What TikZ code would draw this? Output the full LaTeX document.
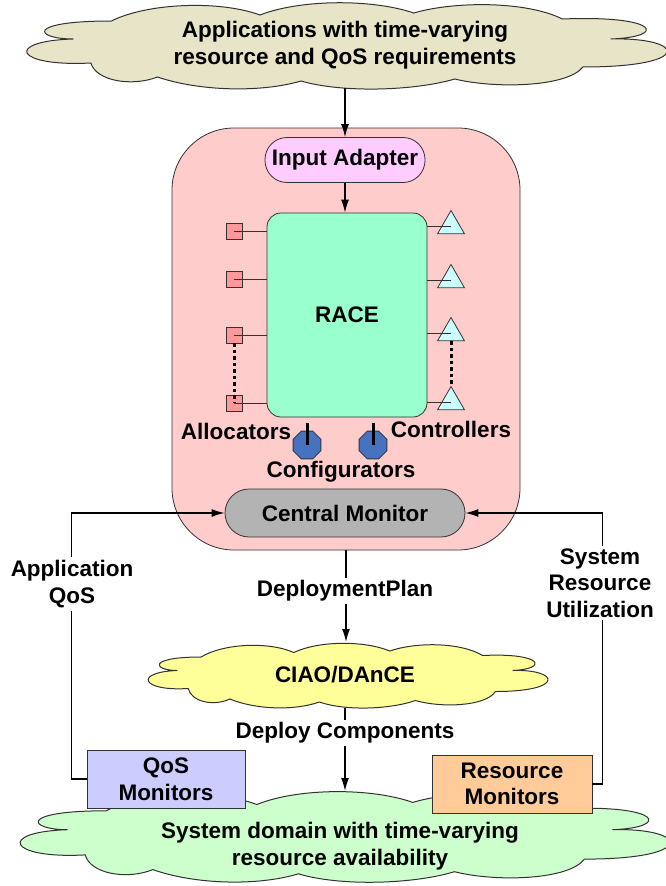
\documentclass[tikz,border=0pt]{standalone}
\usepackage{fontspec}
\setmainfont{Liberation Sans}
\usetikzlibrary{shapes.geometric,arrows.meta}
\definecolor{outl}{RGB}{50,50,50}
\definecolor{cloudtan}{RGB}{231,228,200}
\definecolor{pinkc}{RGB}{255,204,204}
\definecolor{adapterc}{RGB}{255,204,255}
\definecolor{racec}{RGB}{153,255,204}
\definecolor{allocc}{RGB}{255,153,153}
\definecolor{ctrlc}{RGB}{204,255,255}
\definecolor{confc}{RGB}{71,114,192}
\definecolor{cmc}{RGB}{179,179,179}
\definecolor{ciaoc}{RGB}{255,255,153}
\definecolor{sysc}{RGB}{204,255,204}
\definecolor{qosc}{RGB}{204,204,255}
\definecolor{resc}{RGB}{255,204,153}
\newcommand{\myCloudOutline}{%
  (-262,-6) .. controls (-300,-6) and (-310,-24) .. (-225,-24)
  .. controls (-190,-42) and (-120,-45) .. (-80,-30)
  .. controls (-40,-46) and (30,-46) .. (70,-32)
  .. controls (110,-44) and (180,-44) .. (215,-26)
  .. controls (310,-30) and (318,-8) .. (262,-6)
  .. controls (335,-8) and (345,22) .. (235,22)
  .. controls (220,42) and (150,44) .. (110,34)
  .. controls (70,46) and (0,48) .. (-40,36)
  .. controls (-80,48) and (-140,46) .. (-180,32)
  .. controls (-205,42) and (-240,36) .. (-245,18)
  .. controls (-320,22) and (-330,-4) .. (-262,-6) -- cycle}
\begin{document}
\begin{tikzpicture}[x=1pt,y=-1pt,
  every node/.style={font=\fontsize{22.5}{26.5}\selectfont\bfseries, align=center},
  shapeline/.style={draw=outl, line width=0.8pt},
  cloudline/.style={draw=outl, line width=1pt},
  conn/.style={line width=1.3pt, -{Latex[length=13pt,width=8pt]}},
  stub/.style={draw=outl, line width=1pt},
  dotline/.style={line width=3pt, dash pattern=on 3.5pt off 3pt},
  stem/.style={line width=3pt},
  lbl/.style={fill=white, inner sep=3pt},
  cloudtext/.style={inner sep=0pt, outer sep=0pt, minimum width=600pt},
  allocbox/.style={shapeline, fill=allocc, minimum size=16pt, inner sep=0pt},
  ctrlbox/.style={shapeline, fill=ctrlc, regular polygon, regular polygon sides=3, minimum size=31pt, inner sep=0pt},
  confbox/.style={shapeline, fill=confc, regular polygon, regular polygon sides=8, minimum size=30pt, inner sep=0pt},
  monbox/.style={shapeline, minimum width=158pt, minimum height=58pt, inner sep=0pt}
]
\useasboundingbox (0,0) rectangle (665,886);

% top cloud
\begin{scope}[shift={(342,45)}, xscale=1.025]
  \draw[cloudline, fill=cloudtan] \myCloudOutline;
\end{scope}
\node[cloudtext, minimum height=86pt] (appcloud) at (345,45) {Applications with time-varying\\resource and QoS requirements};

% RACE envelope
\node[shapeline, fill=pinkc, rounded corners=62pt, minimum width=348pt, minimum height=422pt] (env) at (346,339) {};

\node[shapeline, fill=adapterc, rounded corners=22pt, minimum width=160pt, minimum height=45pt] (adapter) at (345,160) {Input Adapter};
\node[shapeline, fill=racec, rounded corners=14pt, minimum width=160pt, minimum height=204pt] (race) at (347,315) {RACE};

\draw[conn] (appcloud.south -| adapter.north) -- (adapter.north);
\draw[conn] (adapter.south) -- (adapter.south |- race.north);

% allocators
\node[allocbox] (a1) at (234,231) {};
\node[allocbox] (a2) at (234,279) {};
\node[allocbox] (a3) at (234,335) {};
\node[allocbox] (a4) at (234,403) {};
\foreach \n in {a1,a2,a3,a4} \draw[stub] (\n.center) -- (\n -| race.west);
\draw[dotline] (a3.south) -- (a4.center);

% controllers
\node[ctrlbox] (t1) at (451,226) {};
\node[ctrlbox] (t2) at (451,280) {};
\node[ctrlbox] (t3) at (451,333) {};
\node[ctrlbox] (t4) at (451,402) {};
\foreach \n in {t1,t2,t3,t4} \draw[stub] (\n.center) -- (\n -| race.east);
\draw[dotline] (t3.south) -- (t4.north);

% configurators
\node[confbox] (o1) at (307,445) {};
\node[confbox] (o2) at (373,445) {};
\draw[stem] (o1.center) -- ++(0,-22);
\draw[stem] (o2.center) -- ++(0,-22);

\node (alloclbl) at (236,431) {Allocators};
\node (ctrllbl) at (451,429) {Controllers};
\node (conflbl) at (341,472) {Configurators};

% central monitor
\node[shapeline, fill=cmc, rounded corners=24pt, minimum width=240pt, minimum height=48pt] (cm) at (345,513) {Central Monitor};

% CIAO cloud
\begin{scope}[shift={(345,675)}, xscale=0.64, yscale=0.75]
  \draw[cloudline, fill=ciaoc] \myCloudOutline;
\end{scope}
\node[cloudtext, minimum width=300pt, minimum height=66pt] (ciao) at (345,675) {CIAO/DAnCE};

% system cloud
\begin{scope}[shift={(340,836)}, xscale=1.04, yscale=1.05]
  \draw[cloudline, fill=sysc] \myCloudOutline;
\end{scope}
\node[cloudtext, minimum height=110pt] (sys) at (340,846) {System domain with time-varying\\resource availability};

% monitors
\node[monbox, fill=qosc] (qos) at (166,779) {QoS\\Monitors};
\node[monbox, fill=resc, minimum width=160pt] (res) at (512,784) {Resource\\Monitors};

% connectors
\draw[conn] (env.south) -- (env.south |- ciao.north);
\node[lbl] (dplbl) at (345,591) {DeploymentPlan};
\draw[conn] (ciao.south) -- (ciao.south |- sys.north);
\node[lbl] (dclbl) at (345,733) {Deploy Components};

\draw[conn] (qos.west) -- ++(-15,0) |- (cm.west);
\node[lbl] (aqlbl) at (72,584) {Application\\QoS};
\draw[conn] (res.east) -- ++(10,0) |- (cm.east);
\node[lbl] (srlbl) at (600,583) {System\\Resource\\Utilization};
\end{tikzpicture}
\end{document}
